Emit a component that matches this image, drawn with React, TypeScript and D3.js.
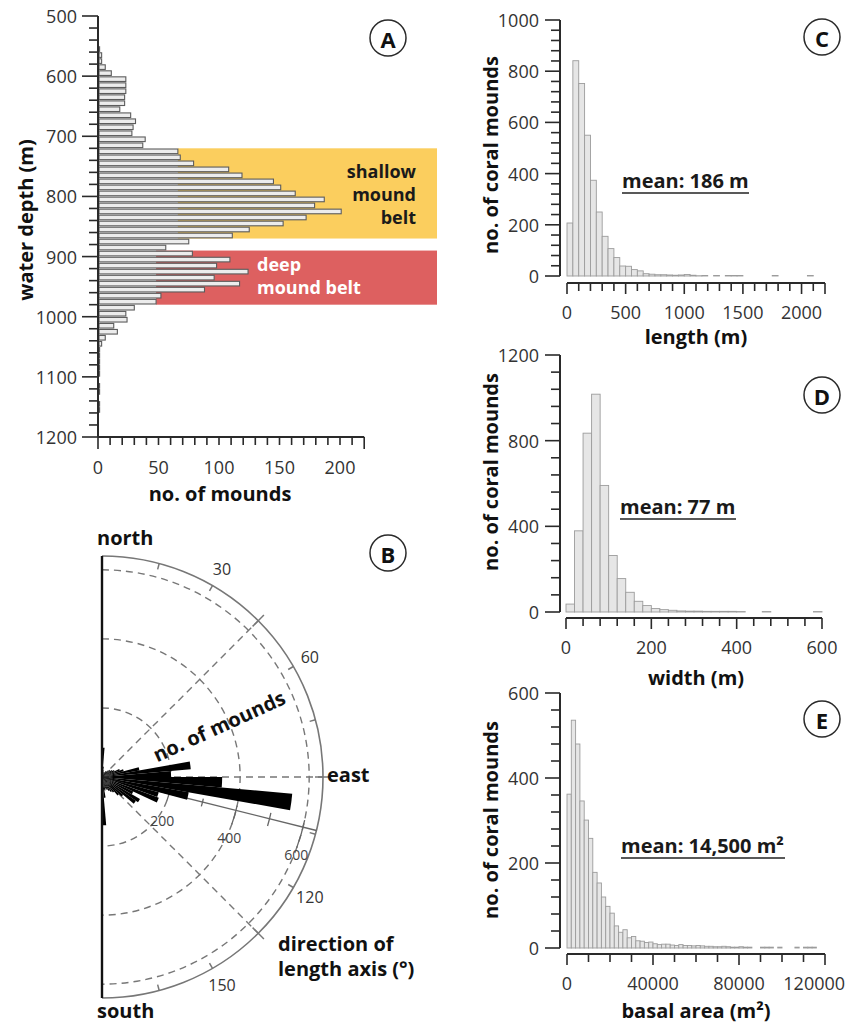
import * as d3 from "d3";

const FONT = "'Open Sans', Lato, sans-serif";
const INK = "#2a2a2a";
const TXT = "#333";
const TICK_FS = 18;
const TITLE_FS = 20;

// A: mounds per 10 m depth bin (bin start in m)
const depthBins = d3.range(550, 1160, 10);
const depthCounts = [
  1, 3, 3, 6, 11, 23, 23, 23, 22, 22, 18, 27, 31, 29, 28, 39, 37, 66, 68, 79, 108,
  119, 145, 151, 163, 187, 179, 201, 172, 153, 125, 111, 75, 56, 78, 109, 98, 124,
  96, 117, 88, 52, 48, 30, 23, 24, 13, 16, 6, 3, 1, 1, 1, 1, 1, 0, 1, 1, 0, 1, 1,
];
const depthLabels = [500, 600, 700, 800, 900, 1000, 1100, 1200];
const moundLabels = [0, 50, 100, 150, 200];
const beltNames = ["shallow", "deep"];
const beltTop = [720, 890];
const beltBottom = [870, 980];
const beltFrom = [66, 48];
const beltColor = ["#fbce5e", "#dd6060"];

// B: rose of length-axis directions, 5° bins
const roseAngles = d3.range(0, 180, 5);
const roseCounts = [
  85, 30, 20, 15, 15, 15, 20, 20, 25, 30, 30, 35, 40, 55, 65, 110, 258, 200, 348,
  553, 255, 170, 175, 100, 127, 120, 80, 70, 55, 50, 45, 40, 35, 40, 60, 140,
];
const roseRings = [200, 400, 600];
const roseAxisTicks = [100, 200, 300, 400, 500, 600];
const compassLabels = [30, 60, 120, 150];

// C: length, 50 m bins
const lengthCounts = [
  207, 841, 752, 550, 374, 250, 155, 107, 72, 39, 38, 25, 20, 9, 7, 5, 5, 4, 3, 4,
  6, 3, 1, 2, 0, 2, 0, 2, 2, 2, 0, 0, 0, 0, 0, 2, 0, 0, 0, 0, 0, 2,
];
// D: width, 20 m bins
const widthCounts = [
  37, 379, 835, 1017, 591, 264, 156, 92, 50, 30, 16, 11, 8, 5, 4, 4, 3, 3, 3, 3, 2,
  0, 0, 2, 0, 0, 0, 0, 0, 2,
];
// E: basal area, 2000 m² bins
const areaCounts = [
  362, 536, 480, 346, 301, 258, 178, 153, 120, 98, 82, 52, 37, 43, 24, 27, 17, 16,
  13, 14, 10, 8, 9, 9, 7, 6, 8, 6, 6, 5, 6, 5, 4, 4, 3, 3, 4, 3, 2, 2, 3, 2, 2, 0,
  0, 2, 2, 2, 0, 2, 0, 0, 0, 2, 0, 2, 2, 2, 0, 0,
];

const Letter = ({ x, y, t }: { x: number; y: number; t: string }) => (
  <g>
    <circle cx={x} cy={y} r={18} fill="#fff" stroke={INK} strokeWidth={1.5} />
    <text x={x} y={y + 1} textAnchor="middle" dominantBaseline="central"
      fontSize={22} fontWeight={700} fill="#111">{t}</text>
  </g>
);

function PanelA() {
  const x = d3.scaleLinear([0, 200], [98, 340]);
  const y = d3.scaleLinear([500, 1200], [16, 437]);
  return (
    <g>
      {beltNames.map((n, i) => (
        <rect key={n} x={x(beltFrom[i])} y={y(beltTop[i])} width={437 - x(beltFrom[i])}
          height={y(beltBottom[i]) - y(beltTop[i])} fill={beltColor[i]} />
      ))}
      {depthBins.map((d, i) =>
        depthCounts[i] > 0 ? (
          <rect key={d} x={x(0) + 1} y={y(d) + 0.7} width={Math.max(0.6, x(depthCounts[i]) - x(0) - 1)}
            height={y(d + 10) - y(d) - 1.4} fill="#ececec" stroke="#5c5c5c" strokeWidth={1.1} />
        ) : null
      )}
      <line x1={98} x2={98} y1={y(500)} y2={y(1200)} stroke={INK} strokeWidth={2} />
      {d3.range(500, 1201, 20).map((t) => {
        const major = t % 100 === 0;
        return <line key={t} x1={98 - (major ? 16 : 9)} x2={98} y1={y(t)} y2={y(t)} stroke={INK} strokeWidth={1.6} />;
      })}
      {depthLabels.map((t) => (
        <text key={t} x={77} y={y(t)} textAnchor="end" dominantBaseline="central" fontSize={TICK_FS} fill={TXT}>{t}</text>
      ))}
      <line x1={98} x2={x(220)} y1={437} y2={437} stroke={INK} strokeWidth={2} />
      {d3.range(0, 221, 10).map((t) => (
        <line key={t} x1={x(t)} x2={x(t)} y1={437} y2={437 + (t === 0 || t === 220 ? 12 : 8)} stroke={INK} strokeWidth={1.6} />
      ))}
      {moundLabels.map((t) => (
        <text key={t} x={x(t)} y={467} textAnchor="middle" dominantBaseline="central" fontSize={TICK_FS} fill={TXT}>{t}</text>
      ))}
      <text x={220} y={501} textAnchor="middle" fontSize={TITLE_FS} fontWeight={700} fill="#111">no. of mounds</text>
      <text transform="translate(33,220) rotate(-90)" textAnchor="middle" fontSize={TITLE_FS} fontWeight={700} fill="#111">water depth (m)</text>
      <text x={416} y={178} fontSize={18} fontWeight={700} fill="#1a1a1a" textAnchor="end">
        <tspan x={416}>shallow</tspan>
        <tspan x={416} dy={23}>mound</tspan>
        <tspan x={416} dy={23}>belt</tspan>
      </text>
      <text x={257} y={271} fontSize={18} fontWeight={700} fill="#fff">
        <tspan x={257}>deep</tspan>
        <tspan x={257} dy={23}>mound belt</tspan>
      </text>
      <Letter x={388} y={38} t="A" />
    </g>
  );
}

function PanelB() {
  const cx = 102, cy = 777;
  const r = d3.scaleLinear([0, 640], [0, 221]);
  const R = r(640);
  const rad = (a: number) => (a * Math.PI) / 180;
  const pt = (a: number, rr: number): [number, number] => [cx + rr * Math.sin(rad(a)), cy - rr * Math.cos(rad(a))];
  const semi = (rr: number) => `M${cx},${cy - rr}A${rr},${rr} 0 0 1 ${cx},${cy + rr}`;
  const arcSeg = (rr: number, a0: number, a1: number) => {
    const p0 = pt(a0, rr), p1 = pt(a1, rr);
    return `M${p0[0]},${p0[1]}A${rr},${rr} 0 0 1 ${p1[0]},${p1[1]}`;
  };
  const wedge = d3.arc<any>().innerRadius(0);
  const axisA = 104;
  // unit vector pointing away from the radial axis, towards its labels
  const perp: [number, number] = [-Math.sin(rad(axisA - 90)), Math.cos(rad(axisA - 90))];
  return (
    <g>
      {roseRings.map((v) => (
        <path key={v} d={semi(r(v))} fill="none" stroke="#777" strokeWidth={1.4} strokeDasharray="7 5" />
      ))}
      {[45, 90, 135].map((a) => {
        const p = pt(a, R);
        return <line key={a} x1={cx} y1={cy} x2={p[0]} y2={p[1]} stroke="#777" strokeWidth={1.4} strokeDasharray="7 5" />;
      })}
      <path d={semi(R)} fill="none" stroke="#777" strokeWidth={1.6} />
      {d3.range(15, 180, 15).map((a) => {
        const long = a % 45 === 0;
        const p0 = pt(a, R - (long ? 8 : 6)), p1 = pt(a, R + (long ? 8 : 0));
        return <line key={a} x1={p0[0]} y1={p0[1]} x2={p1[0]} y2={p1[1]} stroke="#777" strokeWidth={1.5} />;
      })}
      {compassLabels.map((a) => {
        const p = pt(a, 240);
        return <text key={a} x={p[0]} y={p[1]} textAnchor="middle" dominantBaseline="central" fontSize={16} fill={TXT}>{a}</text>;
      })}
      {(() => {
        const p = pt(axisA, R);
        return <line x1={cx} y1={cy} x2={p[0]} y2={p[1]} stroke="#666" strokeWidth={1.4} />;
      })()}
      {roseAxisTicks.map((v) => {
        const major = v % 200 === 0;
        return <path key={v} d={arcSeg(r(v), axisA - 2, axisA + (major ? 6 : 2.5))} fill="none" stroke="#666" strokeWidth={1.3} />;
      })}
      {roseRings.map((v) => {
        const p = pt(axisA, r(v));
        return <text key={v} x={p[0] + perp[0] * 28} y={p[1] + perp[1] * 28} textAnchor="middle" dominantBaseline="central" fontSize={14} fill="#444">{v}</text>;
      })}
      <g transform={`translate(${cx},${cy})`}>
        {roseAngles.map((a, i) => (
          <path key={a} d={wedge({ outerRadius: r(roseCounts[i]), startAngle: rad(a), endAngle: rad(a + 5) }) as string} fill="#000" />
        ))}
      </g>
      <line x1={cx} x2={cx} y1={cy - R} y2={cy + R} stroke="#111" strokeWidth={2.4} />
      <text x={97} y={545} fontSize={TITLE_FS} fontWeight={700} fill="#111">north</text>
      <text x={97} y={1018} fontSize={TITLE_FS} fontWeight={700} fill="#111">south</text>
      <text x={327} y={782} fontSize={TITLE_FS} fontWeight={700} fill="#111">east</text>
      <text transform="translate(219,726) rotate(-24.5)" textAnchor="middle" dominantBaseline="central" fontSize={TITLE_FS} fontWeight={700} fill="#111">no. of mounds</text>
      <text x={278} y={951} fontSize={TITLE_FS} fontWeight={700} fill="#111">
        <tspan x={278}>direction of</tspan>
        <tspan x={278} dy={25}>length axis (°)</tspan>
      </text>
      <Letter x={388} y={553} t="B" />
    </g>
  );
}

type HistProps = {
  counts: number[]; binW: number; xMax: number; xr: [number, number];
  yMax: number; yr: [number, number]; axisY: number;
  yStep: number; yLabels: number[]; xStep: number; xLabels: number[];
  xTitle: string; titleY: number; yTitleY: number;
  mean: string; meanX: number; meanY: number; meanW: number; letter: string; letterY: number;
};

function Hist(p: HistProps) {
  const x = d3.scaleLinear([0, p.xMax], p.xr);
  const y = d3.scaleLinear([0, p.yMax], p.yr);
  const ax = 560;
  return (
    <g>
      {p.counts.map((c, i) =>
        c > 0 ? (
          <rect key={i} x={x(i * p.binW)} y={y(c)} width={x((i + 1) * p.binW) - x(i * p.binW)}
            height={y(0) - y(c)} fill="#e6e6e6" stroke="#9c9c9c" strokeWidth={0.9} />
        ) : null
      )}
      <line x1={ax} x2={ax} y1={y(p.yMax)} y2={y(0)} stroke={INK} strokeWidth={2} />
      {d3.range(0, p.yMax + 1, p.yStep).map((t) => {
        const major = p.yLabels.includes(t);
        return <line key={t} x1={ax - (major ? 15 : 9)} x2={ax} y1={y(t)} y2={y(t)} stroke={INK} strokeWidth={1.6} />;
      })}
      {p.yLabels.map((t) => (
        <text key={t} x={539} y={y(t)} textAnchor="end" dominantBaseline="central" fontSize={TICK_FS} fill={TXT}>{t}</text>
      ))}
      <line x1={x(0)} x2={x(p.xMax)} y1={p.axisY} y2={p.axisY} stroke={INK} strokeWidth={2} />
      {d3.range(0, p.xMax + 1, p.xStep).map((t) => {
        const major = p.xLabels.includes(t) || t === p.xMax;
        return <line key={t} x1={x(t)} x2={x(t)} y1={p.axisY} y2={p.axisY + (major ? 11 : 8)} stroke={INK} strokeWidth={1.6} />;
      })}
      {p.xLabels.map((t) => {
        const half = String(t).length * 5.3;
        return (
          <text key={t} x={Math.min(x(t), 846 - half)} y={p.axisY + 29} textAnchor="middle" dominantBaseline="central" fontSize={TICK_FS} fill={TXT}>{t}</text>
        );
      })}
      <text x={696} y={p.titleY} textAnchor="middle" fontSize={TITLE_FS} fontWeight={700} fill="#111">{p.xTitle}</text>
      <text transform={`translate(498,${p.yTitleY}) rotate(-90)`} textAnchor="middle" fontSize={TITLE_FS} fontWeight={700} fill="#111">no. of coral mounds</text>
      <text x={p.meanX} y={p.meanY} fontSize={TITLE_FS} fontWeight={700} fill="#1a1a1a">{p.mean}</text>
      <line x1={p.meanX} x2={p.meanX + p.meanW} y1={p.meanY + 5} y2={p.meanY + 5} stroke="#222" strokeWidth={1.6} />
      <Letter x={822} y={p.letterY} t={p.letter} />
    </g>
  );
}

export default function App() {
  return (
    <div style={{ position: "absolute", left: 0, top: 0 }}>
      <svg width={851} height={1025} viewBox="0 0 851 1025" style={{ fontFamily: FONT, display: "block", background: "#fff" }}>
        <PanelA />
        <PanelB />
        <Hist counts={lengthCounts} binW={50} xMax={2200} xr={[567, 825]} yMax={1000} yr={[276, 20]}
          axisY={283} yStep={40} yLabels={[0, 200, 400, 600, 800, 1000]} xStep={100}
          xLabels={[0, 500, 1000, 1500, 2000]} xTitle="length (m)" titleY={344} yTitleY={155}
          mean="mean: 186 m" meanX={622} meanY={188} meanW={127} letter="C" letterY={37} />
        <Hist counts={widthCounts} binW={20} xMax={600} xr={[566, 822]} yMax={1200} yr={[612, 355]}
          axisY={618} yStep={80} yLabels={[0, 400, 800, 1200]} xStep={40}
          xLabels={[0, 200, 400, 600]} xTitle="width (m)" titleY={685} yTitleY={472}
          mean="mean: 77 m" meanX={620} meanY={514} meanW={116} letter="D" letterY={395} />
        <Hist counts={areaCounts} binW={2000} xMax={120000} xr={[567, 825]} yMax={600} yr={[948, 693]}
          axisY={954} yStep={40} yLabels={[0, 200, 400, 600]} xStep={10000}
          xLabels={[0, 40000, 80000, 120000]} xTitle="basal area (m²)" titleY={1018} yTitleY={820}
          mean="mean: 14,500 m²" meanX={621} meanY={853} meanW={164} letter="E" letterY={719} />
      </svg>
    </div>
  );
}
